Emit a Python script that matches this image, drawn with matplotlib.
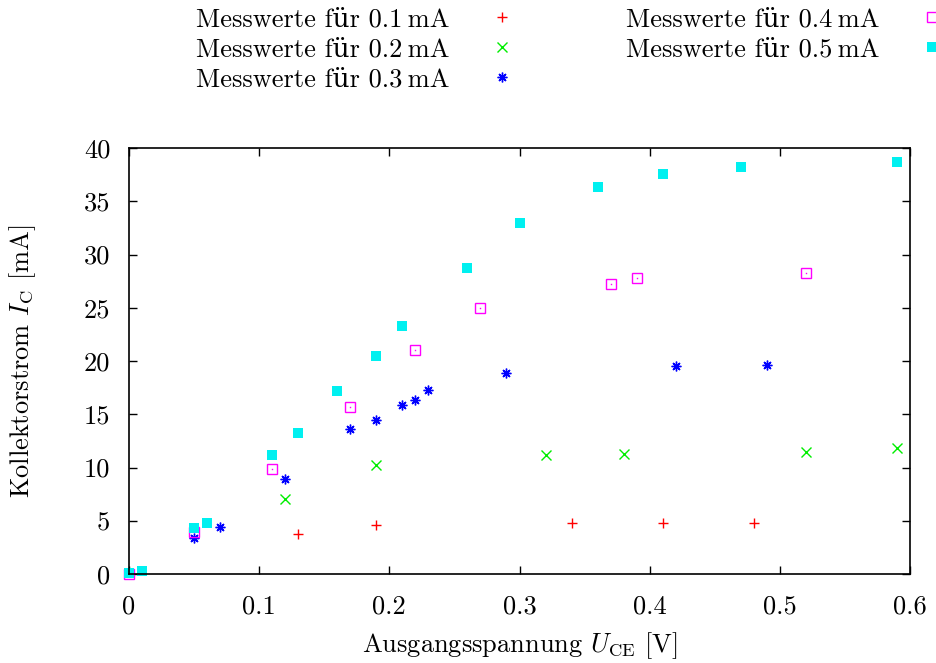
import matplotlib
matplotlib.use("Agg")
import matplotlib.pyplot as plt

plt.rcParams['font.family'] = ['cmr10', 'DejaVu Serif']
plt.rcParams['mathtext.fontset'] = 'cm'
plt.rcParams['axes.formatter.use_mathtext'] = True
plt.rcParams['font.size'] = 19

# Data (U_CE in V, I_C in mA)
x_01 = [0.13, 0.19, 0.34, 0.41, 0.48]
y_01 = [3.8, 4.6, 4.8, 4.8, 4.8]

x_02 = [0.12, 0.19, 0.32, 0.38, 0.52, 0.59]
y_02 = [7.0, 10.2, 11.2, 11.3, 11.5, 11.8]

x_03 = [0.05, 0.07, 0.12, 0.17, 0.19, 0.21, 0.22, 0.23, 0.29, 0.42, 0.49]
y_03 = [3.4, 4.4, 8.9, 13.6, 14.5, 15.9, 16.3, 17.3, 18.9, 19.5, 19.6]

x_04 = [0.0, 0.05, 0.11, 0.17, 0.22, 0.27, 0.37, 0.39, 0.52]
y_04 = [0.0, 3.9, 9.9, 15.7, 21.0, 25.0, 27.2, 27.8, 28.3]

x_05 = [0.0, 0.01, 0.05, 0.06, 0.11, 0.13, 0.16, 0.19, 0.21, 0.26, 0.30, 0.36, 0.41, 0.47, 0.59]
y_05 = [0.1, 0.3, 4.3, 4.8, 11.2, 13.2, 17.2, 20.5, 23.3, 28.7, 33.0, 36.3, 37.6, 38.2, 38.7]

labels = ["Messwerte für 0.1\u2009mA", "Messwerte für 0.2\u2009mA", "Messwerte für 0.3\u2009mA",
          "Messwerte für 0.4\u2009mA", "Messwerte für 0.5\u2009mA"]

x_ticks = [0, 0.1, 0.2, 0.3, 0.4, 0.5, 0.6]
x_ticklabels = ["0", "0.1", "0.2", "0.3", "0.4", "0.5", "0.6"]
y_ticks = [0, 5, 10, 15, 20, 25, 30, 35, 40]
y_ticklabels = ["0", "5", "10", "15", "20", "25", "30", "35", "40"]

fig = plt.figure(figsize=(9.36, 6.63), dpi=100)
ax = fig.add_axes([129/936, 1-574/663, (910-129)/936, (574-148)/663])

h1, = ax.plot(x_01, y_01, ls='none', marker='+', ms=7, mew=1.0, color='#ff0000', clip_on=False)
h2, = ax.plot(x_02, y_02, ls='none', marker='x', ms=6.5, mew=1.0, color='#00ee00', clip_on=False)
h3, = ax.plot(x_03, y_03, ls='none', marker=(8, 2, 0), ms=7, mew=1.0, color='#0000ff', clip_on=False)
h4, = ax.plot(x_04, y_04, ls='none', marker='s', ms=7, mew=1.0, mfc='none', color='#ff00ff', clip_on=False)
ax.plot(x_04, y_04, ls='none', marker='s', ms=1, mew=0, color='#ff00ff', clip_on=False)
h5, = ax.plot(x_05, y_05, ls='none', marker='s', ms=7, mew=0, color='#00f0f0', clip_on=False)

ax.set_xlim(0, 0.6)
ax.set_ylim(0, 40)
ax.set_xticks(x_ticks)
ax.set_xticklabels(x_ticklabels)
ax.set_yticks(y_ticks)
ax.set_yticklabels(y_ticklabels)
ax.tick_params(direction='in', length=6, width=1, top=True, right=True)
ax.tick_params(axis='y', pad=13.5)
ax.tick_params(axis='x', pad=15)
for s in ax.spines.values():
    s.set_linewidth(1.2)

ax.set_xlabel(r"Ausgangsspannung $U_\mathrm{CE}$ [V]")
ax.set_ylabel(r"Kollektorstrom $I_\mathrm{C}$ [mA]")
ax.xaxis.set_label_coords(0.5, (574-630)/426)
ax.yaxis.set_label_coords((38-129)/781, 0.5)

fig.legend([h1, h2, h3, h4, h5], labels, ncol=2, markerfirst=False, frameon=False,
           loc='upper left', bbox_to_anchor=(196/936, 0.989), borderpad=0, borderaxespad=0,
           handlelength=2.0, handletextpad=1.0, columnspacing=3.7, labelspacing=0.24)

fig.savefig("out.png", dpi=100)
